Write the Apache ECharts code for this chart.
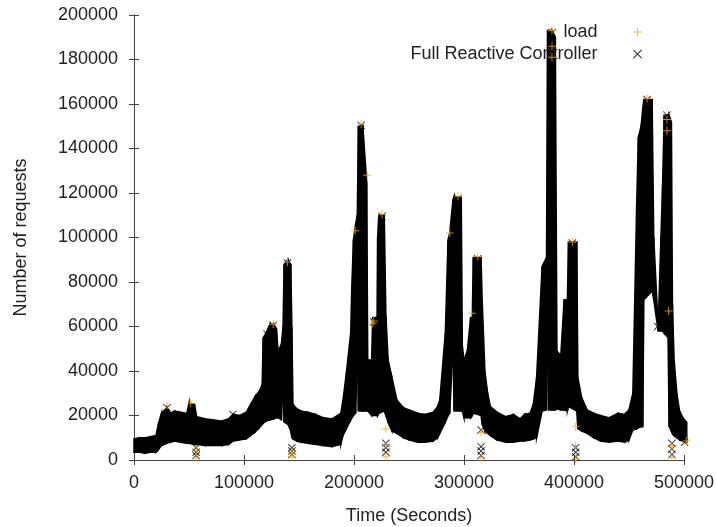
<!DOCTYPE html>
<html>
<head>
<meta charset="utf-8">
<script src="https://cdn.jsdelivr.net/npm/echarts@6/dist/echarts.min.js"></script>
<style>
  html, body { margin: 0; padding: 0; background: #fff; }
  #chart { width: 716px; height: 527px; }
</style>
</head>
<body>
<div id="chart"></div>
<script>
// Envelope of the dense point cloud (seconds / requests)
const times = [
  0, 5000, 10000, 15000, 20000, 22000, 25000, 30000, 33000, 37000,
  42000, 48000, 50000, 55000, 57000, 65000, 72000, 80000, 86000, 90000,
  96000, 102000, 106000, 110000, 114000, 116500, 117500, 120000, 123500, 127000,
  129500, 131000, 134000, 135500, 136500, 140000, 142500, 143500, 144500, 148000,
  152000, 158000, 165000, 172000, 180000, 188000, 190000, 193000, 197000, 198000,
  199500, 201500, 203000, 204000, 208000, 211500, 212500, 216000, 217000, 221000,
  221500, 222500, 227500, 229000, 231000, 234500, 239000, 245000, 250000, 258000,
  265000, 272000, 276000, 278000, 283000, 285500, 287000, 290000, 291000, 297500,
  298500, 300000, 303000, 306000, 307500, 308500, 315500, 316500, 319000, 321500,
  324000, 330000, 338000, 345000, 351000, 355000, 360000, 363000, 366000, 371000,
  375000, 376000, 377000, 380000, 383000, 384500, 388000, 391000, 394000, 395000, 402500,
  403500, 407000, 412000, 418000, 424000, 432000, 440000, 446000, 450000, 453500,
  457000, 458500, 461000, 462500, 463500, 471000, 472500, 476500, 479000, 480500,
  482000, 485500, 486500, 488500, 489500, 491000, 493500, 496000, 499000, 502500];
const lows = [
  3500, 3500, 3000, 3500, 3500, 4500, 6500, 7500, 8000, 8500,
  8000, 7500, 7500, 7000, 7000, 6500, 6500, 6500, 7000, 8500,
  9000, 9500, 11000, 12500, 14500, 16000, 16500, 17500, 18000, 18500,
  19000, 19000, 18000, 35000, 17000, 16000, 13000, 10000, 9500, 8500,
  8000, 7500, 7000, 6500, 6000, 7000, 11000, 14000, 18000, 19000,
  20000, 21000, 50000, 22000, 22000, 22000, 22000, 20000, 20000, 20000,
  20000, 21000, 22000, 20000, 17000, 13000, 12000, 10000, 9000, 8000,
  8000, 8500, 10000, 12000, 17000, 20000, 21000, 50000, 22000, 22000,
  22000, 19000, 19000, 19000, 20000, 21000, 20000, 16000, 13000, 12000,
  11000, 9000, 8000, 8000, 8500, 8500, 9000, 9500, 10000, 22000,
  22500, 55000, 22500, 22500, 22500, 23000, 22500, 22500, 22000, 24000, 22000,
  14000, 13000, 12000, 10000, 8500, 8000, 8500, 8000, 9000, 13500,
  14000, 14500, 15000, 15000, 72000, 76000, 72000, 58000, 58000, 58000,
  57000, 55000, 15000, 13000, 12000, 11000, 10000, 9000, 8500, 8000];
const highs = [
  9500, 10000, 10000, 10500, 11000, 16000, 21000, 23500, 21000, 22000,
  21500, 21000, 25500, 25000, 19500, 18500, 18000, 17500, 18500, 20500,
  20000, 21500, 25000, 28500, 31000, 34000, 55000, 57000, 61000, 61000,
  59000, 49000, 52000, 60000, 88000, 90000, 88000, 60000, 25000, 23000,
  22000, 21500, 20500, 19000, 18500, 21000, 27000, 39000, 57000, 78000,
  99000, 106000, 110000, 150000, 150500, 125000, 45000, 45000, 64000, 64000,
  100000, 110000, 110000, 65000, 45000, 37000, 27000, 23500, 22500, 21000,
  20500, 21500, 24000, 27000, 57000, 99000, 102000, 117000, 118500, 118000,
  51000, 45000, 49000, 64000, 64000, 91000, 91000, 72000, 40000, 30000,
  24000, 21500, 19500, 20500, 18500, 20500, 21000, 25000, 37000, 87000,
  91000, 193000, 193000, 193000, 190000, 49000, 47000, 72000, 72000, 98000, 98000,
  37000, 28000, 22500, 21000, 20000, 19000, 21000, 20500, 22500, 30000,
  115000, 145000, 150000, 158000, 162000, 162000, 100000, 60000, 100000, 123000,
  155000, 155000, 155000, 152000, 70000, 45000, 30000, 22000, 19000, 17000];

// individual markers that stand out from the cloud
const loadMarks = [[30000, 24500], [51500, 25500], [56500, 1000], [56500, 4500], [126500, 61000], [139500, 89000],
  [143500, 1500], [143500, 3500], [201000, 103000], [206500, 151000], [212000, 128000], [217000, 61500],
  [218000, 62500], [225500, 110500], [229000, 14000], [229000, 6500], [229000, 1500], [287000, 102000],
  [294500, 118500], [307000, 66000], [312500, 91500], [315500, 12500], [315500, 1000], [380000, 193000],
  [380000, 186000], [380000, 181000], [398500, 98000], [401500, 15000], [401500, 6500], [401500, 500],
  [466500, 162500], [484500, 153000], [484500, 148000], [486000, 67000], [489000, 6000], [489000, 1000],
  [502000, 8500]];
const controllerMarks = [[30000, 23500], [56500, 5500], [56500, 3500], [56500, 2000], [90000, 20500],
  [121000, 56500], [126500, 60500], [139500, 88500], [143500, 5500], [143500, 4000], [143500, 2500],
  [206500, 150500], [218000, 62000], [225500, 109500], [229000, 7500], [229000, 5500], [229000, 3500],
  [294500, 117500], [312500, 90500], [315500, 13500], [315500, 6000], [315500, 4000], [315500, 2000],
  [380000, 192000], [380000, 188000], [380000, 184000], [398500, 97500], [401500, 5500], [401500, 3500],
  [401500, 1500], [466500, 162000], [476000, 60000], [484500, 155000], [484500, 150000], [484500, 146000],
  [489000, 7500], [489000, 5000], [489000, 2500], [500500, 8000]];

const PLUS = 'path://M0,4.4H10V5.6H0Z M4.4,0H5.6V10H4.4Z';
const CROSS = 'path://M0,0.85L0.85,0L10,9.15L9.15,10Z M10,0.85L0.85,10L0,9.15L9.15,0Z';
const FONT = 'Liberation Sans';
const textColor = '#222';
const frameColor = '#444';

const chart = echarts.init(document.getElementById('chart'));

const frameAxis = {
  axisLine: { show: true, lineStyle: { color: frameColor, width: 1 } },
  axisTick: { show: true, inside: true, length: 5, lineStyle: { color: frameColor } },
  splitLine: { show: false },
};

// one quad per pair of neighbouring samples: [t0, low0, high0, t1, low1, high1]
const cloudSegments = times.slice(0, -1).map((t, i) =>
  [t, lows[i], highs[i], times[i + 1], lows[i + 1], highs[i + 1]]);

chart.setOption({
  animation: false,
  textStyle: { fontFamily: FONT },
  grid: { left: 134, right: 32, top: 15, bottom: 67, outerBoundsMode: 'none' },
  legend: {
    orient: 'vertical',
    align: 'right',
    right: 69,
    top: 18,
    itemWidth: 70,
    itemHeight: 9,
    itemGap: 4,
    textStyle: { fontSize: 18, color: textColor, fontFamily: FONT },
    data: [
      { name: 'load', icon: PLUS },
      { name: 'Full Reactive Controller', icon: CROSS },
    ],
  },
  xAxis: [
    {
      type: 'value', min: 0, max: 500000, interval: 100000, position: 'bottom',
      name: 'Time (Seconds)', nameLocation: 'middle', nameGap: 47,
      nameTextStyle: { fontSize: 18, color: textColor, fontFamily: FONT },
      axisLabel: { fontSize: 18, color: textColor, margin: 14, formatter: (v) => String(v) },
      ...frameAxis,
    },
    {
      type: 'value', min: 0, max: 500000, interval: 100000, position: 'top',
      axisLabel: { show: false },
      ...frameAxis,
    },
  ],
  yAxis: [
    {
      type: 'value', min: 0, max: 200000, interval: 20000, position: 'left',
      name: 'Number of requests', nameLocation: 'middle', nameGap: 104,
      nameTextStyle: { fontSize: 18, color: textColor, fontFamily: FONT },
      axisLabel: { fontSize: 18, color: textColor, margin: 16, formatter: (v) => String(v) },
      ...frameAxis,
    },
    {
      type: 'value', min: 0, max: 200000, interval: 20000, position: 'right',
      axisLabel: { show: false },
      ...frameAxis,
    },
  ],
  series: [
    {
      name: 'cloud',
      type: 'custom',
      data: cloudSegments,
      encode: { x: [0, 3], y: [1, 2, 4, 5] },
      renderItem: (params, api) => {
        const a = api.coord([api.value(0), api.value(1)]);
        const b = api.coord([api.value(0), api.value(2)]);
        const c = api.coord([api.value(3), api.value(5)]);
        const d = api.coord([api.value(3), api.value(4)]);
        return {
          type: 'polygon',
          shape: { points: [a, b, c, d] },
          style: { fill: '#000', stroke: '#000', lineWidth: 1.5 },
        };
      },
      clip: false,
      silent: true,
      z: 2,
    },
    {
      name: 'Full Reactive Controller',
      type: 'scatter',
      data: controllerMarks,
      symbol: CROSS,
      symbolSize: 8,
      itemStyle: { color: '#000' },
      clip: false,
      z: 3,
    },
    {
      name: 'load',
      type: 'scatter',
      data: loadMarks,
      symbol: PLUS,
      symbolSize: 8,
      itemStyle: { color: '#ffa500' },
      clip: false,
      z: 4,
    },
  ],
});
</script>
</body>
</html>
